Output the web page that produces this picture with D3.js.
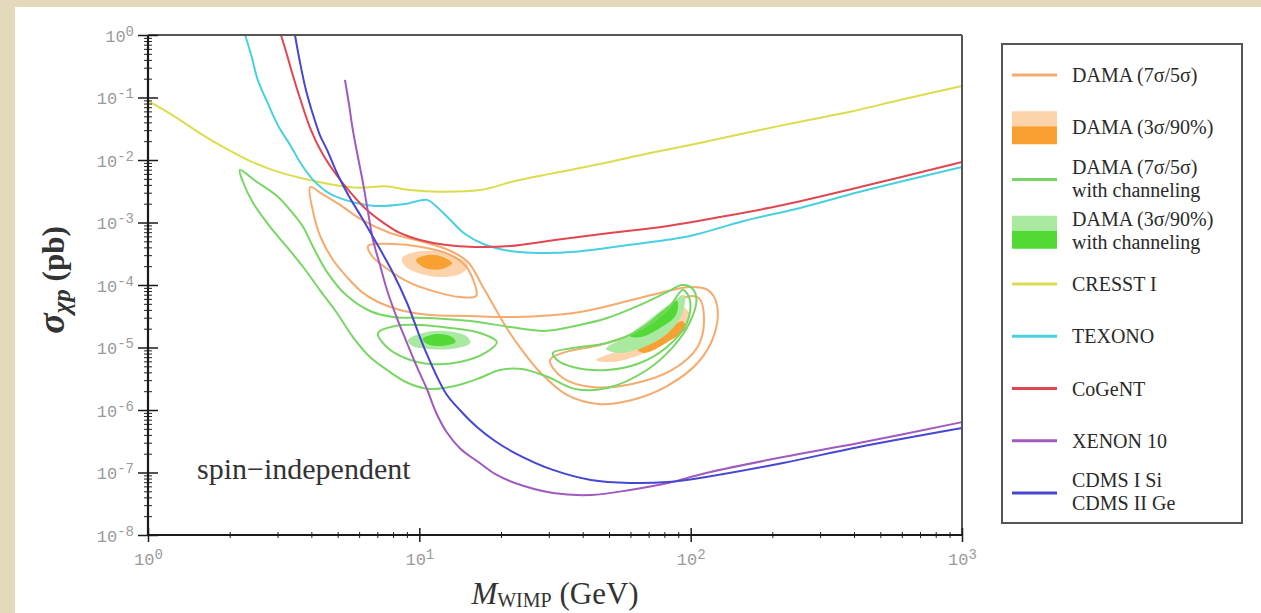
<!DOCTYPE html>
<html>
<head>
<meta charset="utf-8">
<script src="https://cdn.jsdelivr.net/npm/d3@7"></script>
<style>
  body { margin: 0; background: #e4dabb; }
  svg { display: block; }
</style>
</head>
<body>
<script>
// axis ticks
var massTicks = [1, 10, 100, 1000];
var massTickExp = ["0", "1", "2", "3"];
var sigmaTicks = [1, 1e-1, 1e-2, 1e-3, 1e-4, 1e-5, 1e-6, 1e-7, 1e-8];
var sigmaTickExp = ["0", "-1", "-2", "-3", "-4", "-5", "-6", "-7", "-8"];

// limit curves: [mass GeV, sigma pb]
var cresst = [[1,8.8e-2],[1.26,4.9e-2],[1.55,2.7e-2],[1.92,1.56e-2],[2.38,9.6e-3],[2.94,6.7e-3],[3.63,5.2e-3],[4.69,4.1e-3],[6.04,3.6e-3],[7.47,3.8e-3],[9.24,3.3e-3],[11.9,3.1e-3],[16.7,3.3e-3],[22.5,4.6e-3],[30.3,6.0e-3],[46.3,8.6e-3],[70.8,1.29e-2],[108,1.87e-2],[166,2.8e-2],[253,4.1e-2],[387,5.9e-2],[591,9.1e-2],[1000,0.153]];
var texono = [[2.28,1.0],[2.40,0.48],[2.54,0.19],[2.75,8.5e-2],[3.01,3.6e-2],[3.34,1.74e-2],[3.69,8.3e-3],[4.06,4.8e-3],[4.61,3.0e-3],[5.32,2.3e-3],[6.87,1.84e-3],[8.85,1.98e-3],[10.7,2.3e-3],[11.5,1.84e-3],[12.8,1.18e-3],[14.7,6.6e-4],[17.5,4.4e-4],[21.6,3.5e-4],[27.8,3.25e-4],[37.5,3.4e-4],[59.7,4.4e-4],[99.4,6.1e-4],[157,1.06e-3],[253,1.71e-3],[421,3.1e-3],[1000,7.7e-3]];
var cogent = [[3.09,1.0],[3.23,0.535],[3.39,0.256],[3.63,9.8e-2],[3.96,3.25e-2],[4.38,1.29e-2],[4.89,6.2e-3],[5.55,3.1e-3],[6.41,1.58e-3],[7.47,9.5e-4],[8.48,6.8e-4],[10.06,5.25e-4],[12.4,4.4e-4],[16.0,4.06e-4],[21.6,4.2e-4],[31.6,5.25e-4],[50.4,6.8e-4],[82.5,8.8e-4],[128,1.22e-3],[219,1.91e-3],[421,3.7e-3],[1000,9.3e-3]];
var xenon10 = [[5.32,0.191],[5.51,7.6e-2],[5.69,3.0e-2],[5.89,1.34e-2],[6.20,4.3e-3],[6.47,1.47e-3],[6.75,5.25e-4],[7.16,2.09e-4],[7.60,8.3e-5],[8.27,2.96e-5],[9.01,1.18e-5],[9.80,4.9e-6],[10.7,2.09e-6],[11.5,9.3e-7],[12.6,4.45e-7],[14.2,2.38e-7],[16.5,1.47e-7],[19.0,9.5e-8],[22.5,6.8e-8],[31.1,4.7e-8],[42.9,4.37e-8],[59.7,5.25e-8],[82.5,6.8e-8],[114,9.8e-8],[219,1.77e-7],[417,2.96e-7],[1000,6.4e-7]];
var cdms = [[3.48,1.0],[3.63,0.37],[3.82,0.132],[4.06,5.25e-2],[4.30,2.51e-2],[4.57,1.45e-2],[5.01,5.75e-3],[5.55,2.47e-3],[6.15,1.18e-3],[6.75,5.86e-4],[8.0,1.56e-4],[9.01,5.15e-5],[10.5,9.1e-6],[12.5,1.87e-6],[14.1,1.0e-6],[16.3,5.35e-7],[19.0,3.19e-7],[22.5,2.05e-7],[31.1,1.10e-7],[42.9,7.6e-8],[59.7,6.8e-8],[82.5,7.05e-8],[114,8.5e-8],[219,1.42e-7],[417,2.56e-7],[1000,5.15e-7]];

// DAMA regions without channeling
var damaOuter = [[3.96,3.7e-3],[4.38,2.86e-3],[5.10,1.91e-3],[6.15,1.10e-3],[7.79,6.8e-4],[10.06,5.06e-4],[12.8,3.63e-4],[15.1,2.33e-4],[17.0,1.0e-4],[19.0,4.29e-5],[21.2,1.91e-5],[23.9,9.1e-6],[27.8,4.06e-6],[35.0,1.74e-6],[45.5,1.25e-6],[60.8,1.45e-6],[81.8,2.42e-6],[106,5.65e-6],[122,1.58e-5],[125,4.8e-5],[116,8.3e-5],[99.4,9.3e-5],[77.1,7.45e-5],[54.9,5.15e-5],[39.1,3.7e-5],[27.8,3.19e-5],[20.7,3.08e-5],[15.4,3.19e-5],[10.9,3.31e-5],[8.48,3.98e-5],[7.04,5.35e-5],[6.15,7.7e-5],[5.41,1.34e-4],[4.81,2.51e-4],[4.34,5.65e-4],[4.06,1.47e-3]];
var damaLow5 = [[6.47,4.21e-4],[7.93,4.53e-4],[10.2,4.06e-4],[12.8,3.13e-4],[14.7,2.09e-4],[15.8,1.20e-4],[16.2,6.7e-5],[14.1,6.4e-5],[11.6,7.7e-5],[9.24,1.08e-4],[7.54,1.87e-4],[6.69,2.91e-4]];
var damaHigh5 = [[30.3,6.3e-6],[34.7,8.5e-6],[46.3,1.10e-5],[63.9,1.77e-5],[81.1,3.56e-5],[96.1,6.4e-5],[107,6.2e-5],[112,2.75e-5],[106,1.02e-5],[85.4,4.37e-6],[60.8,2.61e-6],[43.3,2.33e-6],[33.8,3.25e-6]];
var damaLow3 = [[8.63,2.70e-4],[9.64,3.37e-4],[11.4,3.50e-4],[13.5,2.91e-4],[15.1,2.09e-4],[14.4,1.56e-4],[11.9,1.34e-4],[9.89,1.56e-4],[8.85,2.01e-4]];
var damaLow90 = [[9.72,2.51e-4],[10.8,3.02e-4],[12.2,2.81e-4],[13.2,2.25e-4],[12.1,1.80e-4],[10.5,1.87e-4]];
var damaHigh3 = [[44.8,6.3e-6],[54.9,9.1e-6],[73.9,1.77e-5],[94.5,4.29e-5],[99.4,3.19e-5],[83.9,1.32e-5],[65.0,7.6e-6],[51.3,5.86e-6]];
var damaHigh90 = [[63.9,9.1e-6],[78.4,1.53e-5],[92.9,2.65e-5],[96.1,2.05e-5],[81.1,1.18e-5],[67.9,8.2e-6]];

// DAMA regions with channeling
var chanOuter = [[2.18,6.9e-3],[2.52,4.45e-3],[2.99,2.65e-3],[3.34,1.58e-3],[3.73,8.5e-4],[4.06,4.06e-4],[4.57,1.61e-4],[5.41,6.7e-5],[6.58,3.84e-5],[8.0,3.08e-5],[10.9,2.96e-5],[15.4,2.65e-5],[21.6,2.13e-5],[29.0,1.84e-5],[37.5,2.21e-5],[49.2,2.96e-5],[65.0,4.79e-5],[81.8,7.7e-5],[92.9,1.0e-4],[101,8.95e-5],[105,5.75e-5],[99.4,2.56e-5],[86.1,1.02e-5],[69.0,4.37e-6],[49.2,2.25e-6],[37.5,2.17e-6],[29.8,3.37e-6],[23.9,4.53e-6],[19.8,4.37e-6],[16.7,3.25e-6],[13.5,2.42e-6],[10.9,2.17e-6],[9.08,2.70e-6],[7.60,4.37e-6],[6.58,7.05e-6],[5.69,1.47e-5],[4.97,3.56e-5],[4.30,8.3e-5],[3.73,1.94e-4],[3.25,4.06e-4],[2.82,8.5e-4],[2.44,2.05e-3],[2.24,4.45e-3]];
var chanLow5 = [[7.04,1.71e-5],[8.13,2.21e-5],[10.06,2.29e-5],[13.0,2.05e-5],[16.7,1.71e-5],[19.3,1.22e-5],[17.5,8.2e-6],[14.1,5.86e-6],[10.9,5.45e-6],[8.85,6.8e-6],[7.66,9.8e-6]];
var chanHigh5 = [[31.1,8.2e-6],[36.8,9.8e-6],[49.2,1.18e-5],[65.0,1.91e-5],[81.8,3.98e-5],[93.7,8.3e-5],[99.4,5.75e-5],[96.9,2.47e-5],[81.8,1.02e-5],[65.0,5.65e-6],[49.2,4.37e-6],[36.8,4.88e-6],[32.2,6.3e-6]];
var chanLow3 = [[9.08,1.32e-5],[10.3,1.71e-5],[12.4,1.84e-5],[14.9,1.53e-5],[15.4,1.18e-5],[13.2,9.5e-6],[10.8,9.5e-6],[9.40,1.06e-5]];
var chanLow90 = [[10.3,1.37e-5],[11.6,1.64e-5],[13.2,1.47e-5],[13.6,1.22e-5],[12.1,1.06e-5],[10.7,1.14e-5]];
var chanHigh3 = [[48.8,9.5e-6],[57.3,1.47e-5],[68.5,2.56e-5],[82.5,4.79e-5],[94.5,6.9e-5],[93.7,3.7e-5],[82.5,1.71e-5],[67.3,1.02e-5],[54.9,8.2e-6]];
var chanHigh90 = [[59.7,1.53e-5],[69.6,2.47e-5],[79.7,3.98e-5],[89.1,5.55e-5],[88.3,3.31e-5],[77.1,2.05e-5],[65.6,1.47e-5]];

// legend
var legendLabels = [
  ["DAMA (7σ/5σ)"],
  ["DAMA (3σ/90%)"],
  ["DAMA (7σ/5σ)", "with channeling"],
  ["DAMA (3σ/90%)", "with channeling"],
  ["CRESST I"],
  ["TEXONO"],
  ["CoGeNT"],
  ["XENON 10"],
  ["CDMS I Si", "CDMS II Ge"]
];

var col = {
  orange: "#f5aa6e", orangeLight: "#fdd3ac", orangeDark: "#f8a132",
  green: "#78d764", greenLight: "#a9e9a0", greenDark: "#52d934",
  cresst: "#dcdc50", texono: "#48d0e0", cogent: "#e04650",
  xenon: "#a05abe", cdms: "#4646d2"
};
var legendKinds = [
  {type: "line", color: col.orange},
  {type: "box", light: col.orangeLight, dark: col.orangeDark},
  {type: "line", color: col.green},
  {type: "box", light: col.greenLight, dark: col.greenDark},
  {type: "line", color: col.cresst},
  {type: "line", color: col.texono},
  {type: "line", color: col.cogent},
  {type: "line", color: col.xenon},
  {type: "line", color: col.cdms}
];

var width = 1261, height = 613;
var svg = d3.select("body").append("svg")
  .attr("width", width).attr("height", height);

svg.append("rect").attr("width", width).attr("height", height).attr("fill", "#e4dabb");
svg.append("rect").attr("x", 15).attr("y", 7)
  .attr("width", width - 15).attr("height", height - 7).attr("fill", "#ffffff");

var x = d3.scaleLog().domain([1, 1000]).range([148, 962]);
var y = d3.scaleLog().domain([1e-8, 1]).range([535, 35]);

var defs = svg.append("defs");
defs.append("clipPath").attr("id", "plotclip")
  .append("rect").attr("x", 148).attr("y", 35).attr("width", 814).attr("height", 500);
defs.append("filter").attr("id", "soft")
  .append("feGaussianBlur").attr("stdDeviation", 0.45);

var openLine = d3.line().x(d => x(d[0])).y(d => y(d[1])).curve(d3.curveCatmullRom.alpha(0.5));
var loopLine = d3.line().x(d => x(d[0])).y(d => y(d[1])).curve(d3.curveCatmullRomClosed.alpha(0.5));

var plot = svg.append("g").attr("clip-path", "url(#plotclip)")
  .append("g").attr("filter", "url(#soft)");

// DAMA without channeling
[[damaLow3, col.orangeLight], [damaHigh3, col.orangeLight],
 [damaLow90, col.orangeDark], [damaHigh90, col.orangeDark]].forEach(function(r) {
  plot.append("path").attr("d", loopLine(r[0])).attr("fill", r[1]);
});
[damaOuter, damaLow5, damaHigh5].forEach(function(r) {
  plot.append("path").attr("d", loopLine(r)).attr("fill", "none")
    .attr("stroke", col.orange).attr("stroke-width", 2);
});
// with channeling
[[chanLow3, col.greenLight], [chanHigh3, col.greenLight],
 [chanLow90, col.greenDark], [chanHigh90, col.greenDark]].forEach(function(r) {
  plot.append("path").attr("d", loopLine(r[0])).attr("fill", r[1]);
});
[chanOuter, chanLow5, chanHigh5].forEach(function(r) {
  plot.append("path").attr("d", loopLine(r)).attr("fill", "none")
    .attr("stroke", col.green).attr("stroke-width", 2);
});

// exclusion limits
[[cresst, col.cresst], [texono, col.texono], [cogent, col.cogent],
 [xenon10, col.xenon], [cdms, col.cdms]].forEach(function(c) {
  plot.append("path").attr("d", openLine(c[0])).attr("fill", "none")
    .attr("stroke", c[1]).attr("stroke-width", 2).attr("stroke-linejoin", "round");
});

// frame
svg.append("line").attr("x1", 148).attr("x2", 962).attr("y1", 35).attr("y2", 35)
  .attr("stroke", "#555").attr("stroke-width", 2);
svg.append("line").attr("x1", 962).attr("x2", 962).attr("y1", 35).attr("y2", 535)
  .attr("stroke", "#555").attr("stroke-width", 2);

// minor tick values
var yMinor = [], xMinor = [];
for (var e = -8; e < 0; e++) for (var k = 2; k < 10; k++) yMinor.push(k * Math.pow(10, e));
for (var e2 = 0; e2 < 3; e2++) for (var k2 = 2; k2 < 10; k2++) xMinor.push(k2 * Math.pow(10, e2));

var mono = "'Liberation Mono', 'DejaVu Sans Mono', monospace";
function tickLabel(t, exp) {
  t.attr("font-family", mono).attr("font-size", 17).attr("fill", "#9a9a9a");
  t.append("tspan").text("10");
  t.append("tspan").attr("dy", -6).attr("font-size", 14).text(exp);
}

// y axis
var yMin = svg.append("g").attr("transform", "translate(148,0)")
  .call(d3.axisLeft(y).tickValues(yMinor).tickSize(4).tickFormat(""));
yMin.select(".domain").remove();
yMin.selectAll(".tick").append("line").attr("x2", 4).attr("stroke", "currentColor");
yMin.attr("color", "#222");

var yAx = svg.append("g").attr("transform", "translate(148,0)")
  .call(d3.axisLeft(y).tickValues(sigmaTicks).tickSize(10).tickPadding(4).tickFormat(""));
yAx.select(".domain").remove();
yAx.attr("color", "#1a1a1a");
yAx.selectAll(".tick line").attr("stroke-width", 1.5);
yAx.selectAll(".tick").append("line").attr("x2", 10).attr("stroke", "currentColor").attr("stroke-width", 1.5);
yAx.selectAll(".tick text").attr("dy", "0.36em").each(function(d, i) {
  tickLabel(d3.select(this), sigmaTickExp[i]);
});
svg.append("line").attr("x1", 148).attr("x2", 148).attr("y1", 35).attr("y2", 536)
  .attr("stroke", "#1a1a1a").attr("stroke-width", 2.2);

// x axis
var xMin = svg.append("g").attr("transform", "translate(0,535)")
  .call(d3.axisBottom(x).tickValues(xMinor).tickSize(3).tickFormat(""));
xMin.select(".domain").remove();
xMin.selectAll(".tick").append("line").attr("y2", -3).attr("stroke", "currentColor");
xMin.attr("color", "#222");

var xAx = svg.append("g").attr("transform", "translate(0,535)")
  .call(d3.axisBottom(x).tickValues(massTicks).tickSize(7).tickPadding(11).tickFormat(""));
xAx.select(".domain").remove();
xAx.attr("color", "#1a1a1a");
xAx.selectAll(".tick line").attr("stroke-width", 1.5);
xAx.selectAll(".tick").append("line").attr("y2", -7).attr("stroke", "currentColor").attr("stroke-width", 1.5);
xAx.selectAll(".tick text").each(function(d, i) {
  tickLabel(d3.select(this), massTickExp[i]);
});
svg.append("line").attr("x1", 147).attr("x2", 962).attr("y1", 535).attr("y2", 535)
  .attr("stroke", "#1a1a1a").attr("stroke-width", 2.2);

// axis titles
var serif = "'Liberation Serif', 'Times New Roman', serif";
var yt = svg.append("text").attr("transform", "translate(64,280) rotate(-90)")
  .attr("text-anchor", "middle").attr("font-family", serif).attr("font-weight", "bold")
  .attr("fill", "#333");
yt.append("tspan").attr("font-style", "italic").attr("font-size", 38).text("σ");
yt.append("tspan").attr("font-style", "italic").attr("font-size", 25).attr("dy", 6).text("χp");
yt.append("tspan").attr("font-size", 31).attr("dy", -6).text(" (pb)");

var xt = svg.append("text").attr("x", 555).attr("y", 604)
  .attr("text-anchor", "middle").attr("font-family", serif).attr("fill", "#333");
xt.append("tspan").attr("font-style", "italic").attr("font-size", 31).text("M");
xt.append("tspan").attr("font-size", 20).attr("dy", 3).text("WIMP");
xt.append("tspan").attr("font-size", 31).attr("dy", -3).text(" (GeV)");

svg.append("text").attr("x", 197).attr("y", 479)
  .attr("font-family", serif).attr("font-size", 30).attr("fill", "#333")
  .text("spin\u2212independent");

// legend
svg.append("rect").attr("x", 1002).attr("y", 44).attr("width", 240).attr("height", 479)
  .attr("fill", "#fff").attr("stroke", "#555").attr("stroke-width", 2);

var rowY = d3.scaleLinear().domain([0, 8]).range([75, 493]);
var rows = svg.append("g").selectAll("g").data(legendLabels).enter().append("g")
  .attr("transform", (d, i) => "translate(0," + rowY(i) + ")");

rows.each(function(lbl, i) {
  var g = d3.select(this), kind = legendKinds[i];
  if (kind.type === "line") {
    g.append("line").attr("x1", 1012).attr("x2", 1057)
      .attr("stroke", kind.color).attr("stroke-width", 3);
  } else {
    g.append("rect").attr("x", 1012).attr("y", -16).attr("width", 45).attr("height", 15).attr("fill", kind.light);
    g.append("rect").attr("x", 1012).attr("y", -1).attr("width", 45).attr("height", 18).attr("fill", kind.dark);
  }
  var t = g.append("text").attr("x", 1072).attr("font-family", serif)
    .attr("font-size", 20).attr("fill", "#2a2a2a");
  if (lbl.length === 1) {
    t.append("tspan").attr("x", 1072).attr("y", 7).text(lbl[0]);
  } else {
    t.append("tspan").attr("x", 1072).attr("y", -6).text(lbl[0]);
    t.append("tspan").attr("x", 1072).attr("y", 17).text(lbl[1]);
  }
});
</script>
</body>
</html>
